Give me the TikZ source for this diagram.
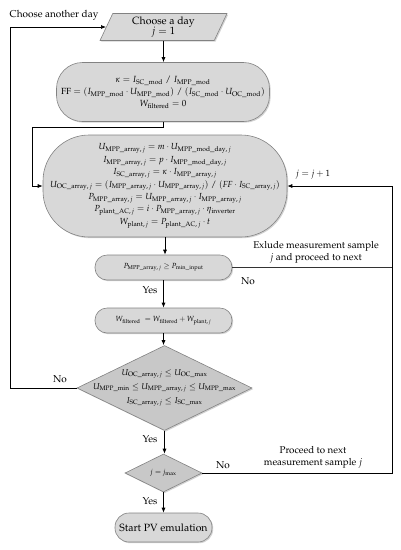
\documentclass[tikz,border=0pt]{standalone}
\usepackage[T1]{fontenc}
\usepackage{mathpazo}
\usetikzlibrary{shapes.geometric,shadows,arrows.meta,calc}
\definecolor{boxfill}{RGB}{216,216,216}
\definecolor{diafill}{RGB}{200,200,200}
\definecolor{boxline}{RGB}{130,130,130}
\newcommand{\sbs}[1]{\mathrm{#1}}
\begin{document}
\begin{tikzpicture}[x=1pt,y=-1pt,
  box/.style={draw=boxline, line width=0.6pt, fill=boxfill, align=center, inner sep=1pt,
    drop shadow={shadow xshift=1.2pt, shadow yshift=-1.2pt, fill=black!35}},
  dia/.style={diamond, draw=boxline, line width=0.6pt, fill=diafill, inner sep=0pt,
    drop shadow={shadow xshift=1.2pt, shadow yshift=-1.2pt, fill=black!35}},
  arr/.style={draw=black, line width=0.7pt, -{Latex[length=5pt,width=4pt]}},
  ln/.style={draw=black!80, line width=0.7pt},
  lab/.style={font=\fontsize{10}{12}\selectfont, align=center, inner sep=0pt},
  frm/.style={font=\fontsize{7.4}{12.6}\selectfont}
]
\useasboundingbox (0,0) rectangle (401,550);

% nodes
\node[box, trapezium, trapezium left angle=61, trapezium right angle=119,
  trapezium stretches body, minimum width=127pt, minimum height=27pt, font=\fontsize{10.5}{11.5}\selectfont]
  (start) at (163.5,27) {Choose a day\\[-1pt] $j = 1$};

\node[box, rounded corners=26pt, minimum width=213pt, minimum height=59pt,
  font=\fontsize{8.9}{12}\selectfont] (init) at (163,92)
  {$\kappa = I_{\sbs{SC\_mod}} \;/\; I_{\sbs{MPP\_mod}}$\\
   $\mathrm{FF} = (I_{\sbs{MPP\_mod}} \cdot U_{\sbs{MPP\_mod}}) \;/\; (I_{\sbs{SC\_mod}} \cdot U_{\sbs{OC\_mod}})$\\
   $W_{\sbs{filtered}} = 0$};

\node[box, rounded corners=46pt, minimum width=244pt, minimum height=102pt,
  font=\fontsize{8.8}{12.4}\selectfont] (calc) at (165,186)
  {$U_{\sbs{MPP\_array},\,j} = m \cdot U_{\sbs{MPP\_mod\_day},\,j}$\\
   $I_{\sbs{MPP\_array},\,j} = p \cdot I_{\sbs{MPP\_mod\_day},\,j}$\\
   $I_{\sbs{SC\_array},\,j} = \kappa \cdot I_{\sbs{MPP\_array},\,j}$\\
   $U_{\sbs{OC\_array},\,j} = (I_{\sbs{MPP\_array},\,j} \cdot U_{\sbs{MPP\_array},\,j}) \;/\; (\mathit{FF} \cdot I_{\sbs{SC\_array},\,j})$\\
   $P_{\sbs{MPP\_array},\,j} = U_{\sbs{MPP\_array},\,j} \cdot I_{\sbs{MPP\_array},\,j}$\\
   $P_{\sbs{plant\_AC},\,j} = i \cdot P_{\sbs{MPP\_array},\,j} \cdot \eta_{\sbs{inverter}}$\\
   $W_{\sbs{plant},\,j} = P_{\sbs{plant\_AC},\,j} \cdot t$};

\node[box, frm, rounded corners=12pt, minimum width=137pt, minimum height=25pt] (chk) at (163.5,267.5)
  {$P_{\sbs{MPP\_array},\,j} \geq P_{\sbs{min\_input}}$};

\node[box, frm, rounded corners=12pt, minimum width=137pt, minimum height=25pt] (wf) at (163.5,320.5)
  {$W_{\sbs{filtered}} \;= W_{\sbs{filtered}} + W_{\sbs{plant},\,j}$};

\node[dia, minimum width=175pt, minimum height=85pt] (d1) at (164.5,388) {};
\node[align=center, font=\fontsize{8.5}{14}\selectfont] (d1t) at (d1.center)
  {$U_{\sbs{OC\_array},\,j} \leq U_{\sbs{OC\_max}}$\\
   $U_{\sbs{MPP\_min}} \leq U_{\sbs{MPP\_array},\,j} \leq U_{\sbs{MPP\_max}}$\\
   $I_{\sbs{SC\_array},\,j} \leq I_{\sbs{SC\_max}}$};

\node[dia, minimum width=77pt, minimum height=38pt] (d2) at (163.5,473) {};
\node[frm] (d2t) at (d2.center) {$j = j_{\sbs{max}}$};

\node[box, rounded corners=14pt, minimum width=97pt, minimum height=29pt,
  font=\fontsize{10.5}{11}\selectfont] (fin) at (163.5,527.5) {Start PV emulation};

% helper coordinates
\coordinate (rx) at (392,0);
\coordinate (lx) at (10,0);
\coordinate (ix) at (32,0);

% connectors
\draw[arr] (start.south) -- (start.south |- init.north);
\draw[arr] (init.south) -- ++(0,6) coordinate (ib) -| (ix |- calc.west) -- (calc.west);
\draw[arr] (calc.south) -- (calc.south |- chk.north);
\draw[arr] (chk.south) -- (chk.south |- wf.north);
\draw[arr] (wf.south) -- (wf.south |- d1.north);
\draw[arr] (d1.south) -- (d1.south |- d2.north);
\draw[arr] (d2.south) -- (d2.south |- fin.north);
\draw[arr] (d1.west) -- (lx |- d1.west) |- (start.west);
\draw[arr] (d2.east) -- (rx |- d2.east) |- (calc.east);
\draw[ln] (chk.east) -- (rx |- chk.east);

% labels
\node[lab] (l1) at (54,15) {Choose another day};
\node[lab] (l2) at (60,379) {No};
\node[lab] (l3) at (150,290) {Yes};
\node[lab] (l4) at (150,439) {Yes};
\node[lab] (l5) at (150,501) {Yes};
\node[lab] (l6) at (248,281) {No};
\node[lab] (l7) at (223,465) {No};
\node[lab, font=\fontsize{9}{11}\selectfont] (l8) at (313,175) {$j = j + 1$};
\node[lab, font=\fontsize{9.8}{12}\selectfont] (l9) at (316,252) {Exlude measurement sample\\ $j$ and proceed to next};
\node[lab, font=\fontsize{9.8}{12}\selectfont] (l10) at (313,457) {Proceed to next\\ measurement sample $j$};
\end{tikzpicture}
\end{document}
